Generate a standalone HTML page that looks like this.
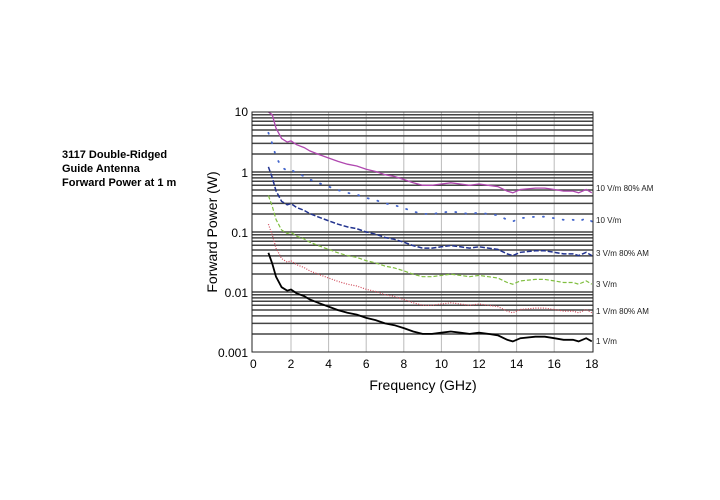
<!DOCTYPE html>
<html><head><style>
body{margin:0;background:#fff;}
svg{display:block;font-family:"Liberation Sans",Arial,sans-serif;}
</style></head><body>
<svg id="s" width="720" height="500" xmlns="http://www.w3.org/2000/svg">
<rect width="720" height="500" fill="#fff"/>
<g id="grid"></g>
<g id="curves"></g>
<rect x="252" y="112" width="341" height="240" fill="none" stroke="#222" stroke-width="1"/>
<text x="62" y="158" font-size="11" font-weight="bold">3117 Double-Ridged</text>
<text x="62" y="172" font-size="11" font-weight="bold">Guide Antenna</text>
<text x="62" y="186" font-size="11" font-weight="bold">Forward Power at 1 m</text>
<g font-size="12" text-anchor="end">
<text x="248" y="116">10</text><text x="248" y="177">1</text>
<text x="248" y="237">0.1</text><text x="248" y="297">0.01</text>
<text x="248" y="357">0.001</text></g>
<text transform="translate(217,232) rotate(-90)" font-size="14" text-anchor="middle">Forward Power (W)</text>
<text x="423" y="390" font-size="14" text-anchor="middle">Frequency (GHz)</text>
<g id="xt" font-size="12" text-anchor="middle"></g>
<g font-size="8" fill="#222">
<text x="596" y="191">10 V/m 80% AM</text>
<text x="596" y="223">10 V/m</text>
<text x="596" y="256">3 V/m 80% AM</text>
<text x="596" y="287">3 V/m</text>
<text x="596" y="314">1 V/m 80% AM</text>
<text x="596" y="344">1 V/m</text>
</g>
</svg>
<script>
var NS="http://www.w3.org/2000/svg";
function el(t,a,p){var e=document.createElementNS(NS,t);for(var k in a)e.setAttribute(k,a[k]);p.appendChild(e);return e;}
var X=function(f){return 253.4+f*18.8;},Y=function(v){return 352-(Math.log10(v)+3)*60;};
var g=document.getElementById('grid'),xt=document.getElementById('xt');
for(var i=2;i<=16;i+=2)el('line',{x1:X(i),x2:X(i),y1:112,y2:352,stroke:'#bbb','stroke-width':1},g);
for(var i=0;i<=18;i+=2){var t=el('text',{x:X(i),y:368},xt);t.textContent=i;}
for(var d=-3;d<1;d++)for(var m=1;m<=9;m++){var y=Y(m*Math.pow(10,d));if(y<112||m==1&&d==-3)continue;
el('line',{x1:252,x2:593,y1:y,y2:y,stroke:'#444','stroke-width':1.5},g);}
var pts=[[0.8,0.045],[1.0,0.03],[1.2,0.018],[1.5,0.012],[1.8,0.0105],[2.0,0.011],[2.3,0.0095],[2.7,0.0085],[3.0,0.0075],[3.5,0.0065],[4,0.0057],[4.5,0.005],[5,0.0045],[5.5,0.0042],[6,0.0037],[6.5,0.0034],[7,0.003],[7.5,0.0028],[8,0.0025],[8.5,0.0022],[9,0.002],[9.5,0.002],[10,0.0021],[10.5,0.0022],[11,0.0021],[11.5,0.002],[12,0.0021],[12.5,0.002],[13,0.0019],[13.5,0.0016],[13.8,0.0015],[14.2,0.0017],[15,0.0018],[15.5,0.0018],[16,0.0017],[16.5,0.0016],[17,0.0016],[17.3,0.0015],[17.7,0.0017],[18,0.0015]];
var series=[[300,'#b048b0','',1.3],[100,'#4466cc','1 9',1.8],[27,'#22338f','5 2',1.5],[9,'#80bf40','4 2',1.2],[3,'#d04a5a','1 1.5',1.2],[1,'#000','',1.8]];
var c=document.getElementById('curves');
series.forEach(function(s){var d='';pts.forEach(function(p,i){var v=p[1]*s[0];if(v>10)v=10;d+=(i?'L':'M')+X(p[0]).toFixed(1)+','+Y(v).toFixed(1);});
var a={d:d,fill:'none',stroke:s[1],'stroke-width':s[3]};if(s[2])a['stroke-dasharray']=s[2];if(s[2]=='1 9')a['stroke-linecap']='round';el('path',a,c);});
</script>
</body></html>
